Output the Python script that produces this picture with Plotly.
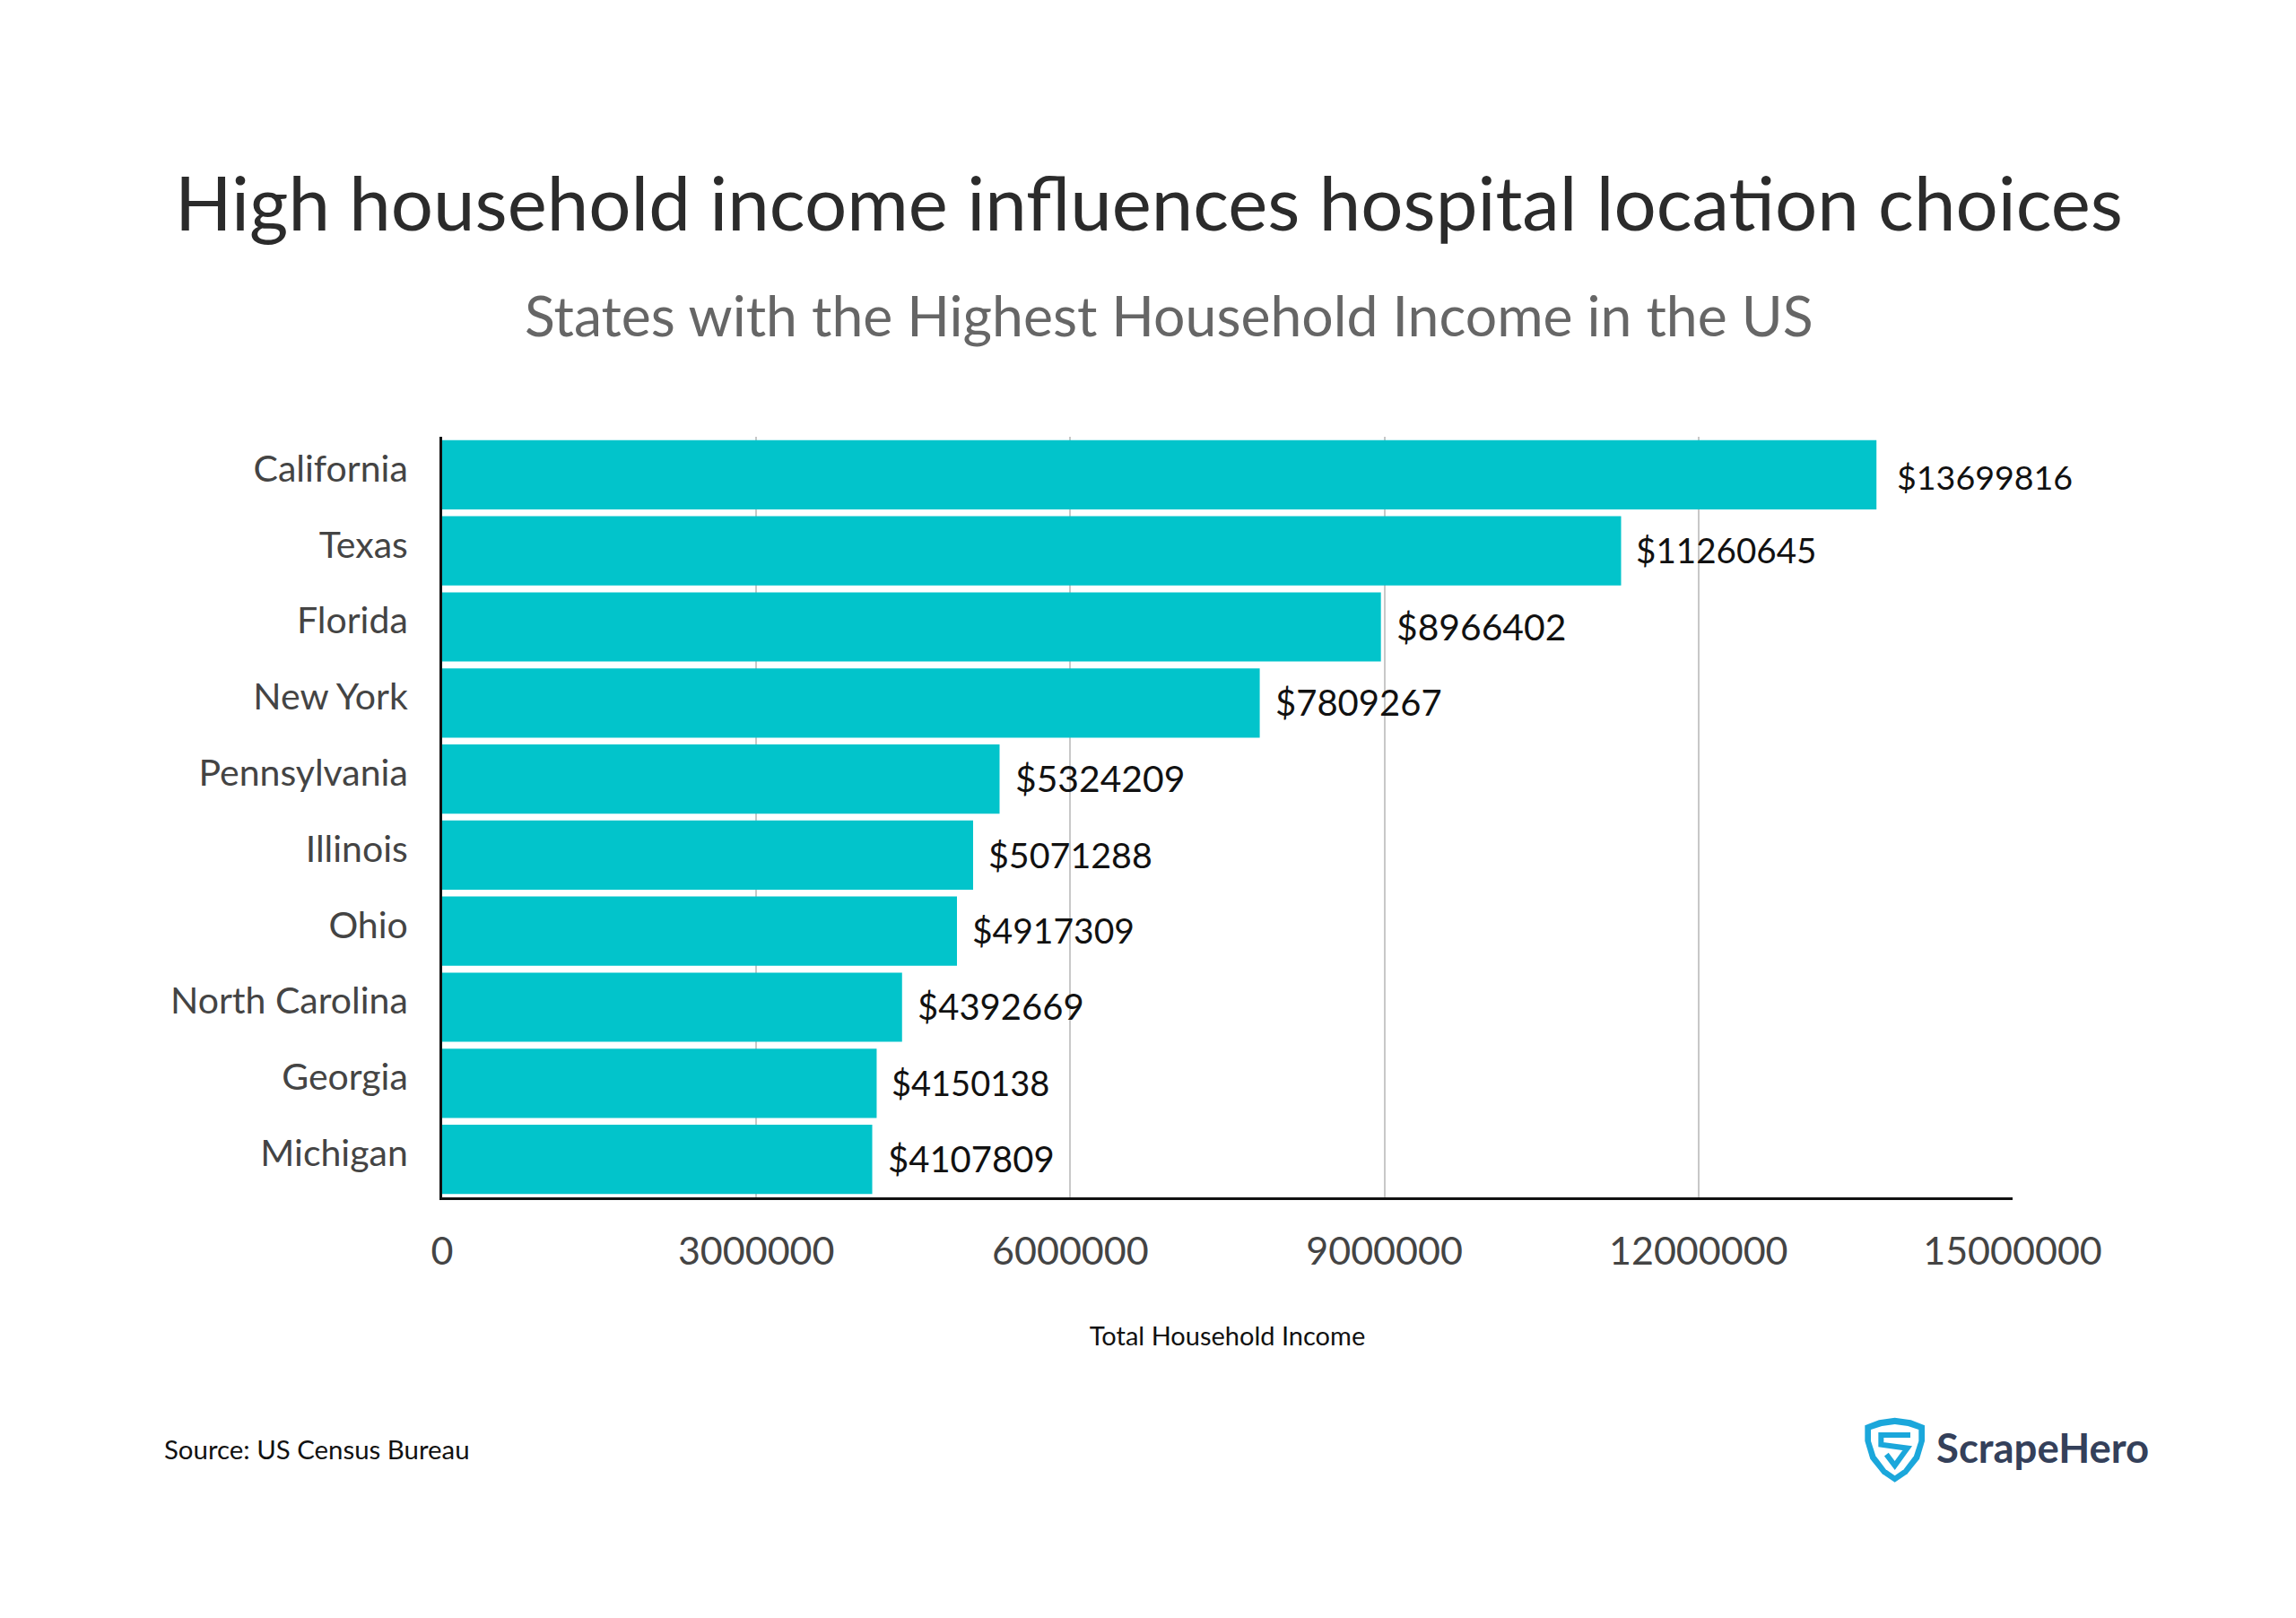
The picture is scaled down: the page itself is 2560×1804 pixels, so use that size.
import plotly.graph_objects as go

W, H = 2560, 1804
LEFT, RIGHT, TOP, BOTTOM = 493, 2244, 487, 1335

states = ['California', 'Texas', 'Florida', 'New York', 'Pennsylvania',
          'Illinois', 'Ohio', 'North Carolina', 'Georgia', 'Michigan']
income = [13699816, 11260645, 8966402, 7809267, 5324209,
          5071288, 4917309, 4392669, 4150138, 4107809]
x_ticks = [0, 3000000, 6000000, 9000000, 12000000, 15000000]

# the labels in the original are not all the same size
label_sizes = [37.6, 38.6, 40.8, 40, 40.8, 39.4, 39, 40, 38, 40]

FONT = 'Lato'


def paper_x(px):
    return (px - LEFT) / (RIGHT - LEFT)


def paper_y(py):
    return (BOTTOM - py) / (BOTTOM - TOP)


def svg_path(points, close=True):
    # page pixels -> paper coords, so the logo can sit outside the plot area
    d = ''
    for i, (x, y) in enumerate(points):
        d += ('M' if i == 0 else 'L') + f'{paper_x(x):.5f},{paper_y(y):.5f} '
    return d + ('Z' if close else '')


def page_text(text, x, y, size, color, anchor='center', weight=400):
    return dict(text=text, xref='paper', yref='paper', x=paper_x(x), y=paper_y(y),
                xanchor=anchor, yanchor='middle', showarrow=False,
                font=dict(family=FONT, size=size, color=color, weight=weight))


fig = go.Figure(go.Bar(y=states, x=income, orientation='h',
                       marker=dict(color='#02C4CB', line=dict(width=0)),
                       hoverinfo='skip'))

annotations = [
    page_text('High household income influences hospital location choices', 1281, 225, 83.4, '#2B2B2B'),
    page_text('States with the Highest Household Income in the US', 1303, 350, 62.5, '#666666'),
    page_text('Source: US Census Bureau', 181, 1615, 29.4, '#111111', anchor='left'),
    page_text('ScrapeHero', 2157, 1613, 45.5, '#34405A', anchor='left', weight=700),
]

# value labels sit a little further from the bar than textposition outside allows
for state, value, size in zip(states, income, label_sizes):
    annotations.append(dict(text=f'${value}', x=value, y=state, xref='x', yref='y',
                            xanchor='left', yanchor='middle', showarrow=False,
                            xshift=21 if state == 'California' else 15,
                            yshift=-2 if state == 'California' else 1,
                            font=dict(family=FONT, size=size, color='#111111')))

# shield logo
def z(px, py):
    return (2000 + px / 3, 1540 + py / 3)


outer = [z(*p) for p in [(238, 148), (285, 130), (338, 122), (392, 130), (438, 148), (438, 200),
                         (420, 260), (380, 310), (338, 338), (296, 310), (256, 260), (238, 200)]]
inner = [z(*p) for p in [(258, 162), (295, 150), (338, 144), (382, 150), (418, 162), (418, 200),
                         (402, 250), (368, 295), (338, 316), (308, 295), (274, 250), (258, 200)]]
s_line = [z(*p) for p in [(390, 180), (292, 180), (292, 212), (380, 224), (338, 282), (310, 245)]]

shapes = [
    dict(type='path', xref='paper', yref='paper', path=svg_path(outer), fillcolor='#1BA7DB', line=dict(width=0)),
    dict(type='path', xref='paper', yref='paper', path=svg_path(inner), fillcolor='white', line=dict(width=0)),
    dict(type='path', xref='paper', yref='paper', path=svg_path(s_line, close=False),
         line=dict(color='#1BA7DB', width=6)),
]

fig.update_layout(
    width=W, height=H,
    margin=dict(l=LEFT, r=W - RIGHT, t=TOP, b=H - BOTTOM, pad=0),
    paper_bgcolor='white', plot_bgcolor='white',
    showlegend=False, bargap=0.09,
    annotations=annotations, shapes=shapes,
    font=dict(family=FONT),
)
fig.update_xaxes(range=[0, 15000000], tickvals=x_ticks, ticktext=[str(v) for v in x_ticks],
                 showgrid=True, gridcolor='#C8C8C8', gridwidth=2,
                 showline=True, linecolor='#111111', linewidth=3, zeroline=False,
                 ticks='', ticklabelstandoff=20,
                 tickfont=dict(family=FONT, size=43, color='#444444'),
                 title=dict(text='Total Household Income', standoff=63,
                            font=dict(family=FONT, size=29, color='#111111')))
fig.update_yaxes(autorange='reversed', showgrid=False,
                 showline=True, linecolor='#111111', linewidth=3, zeroline=False,
                 ticks='', ticklabelstandoff=27, ticklabelshift=7,
                 tickfont=dict(family=FONT, size=41, color='#444444'))

fig.write_html("out.html", post_script="document.body.style.margin='0';",
               config={'displayModeBar': False})
